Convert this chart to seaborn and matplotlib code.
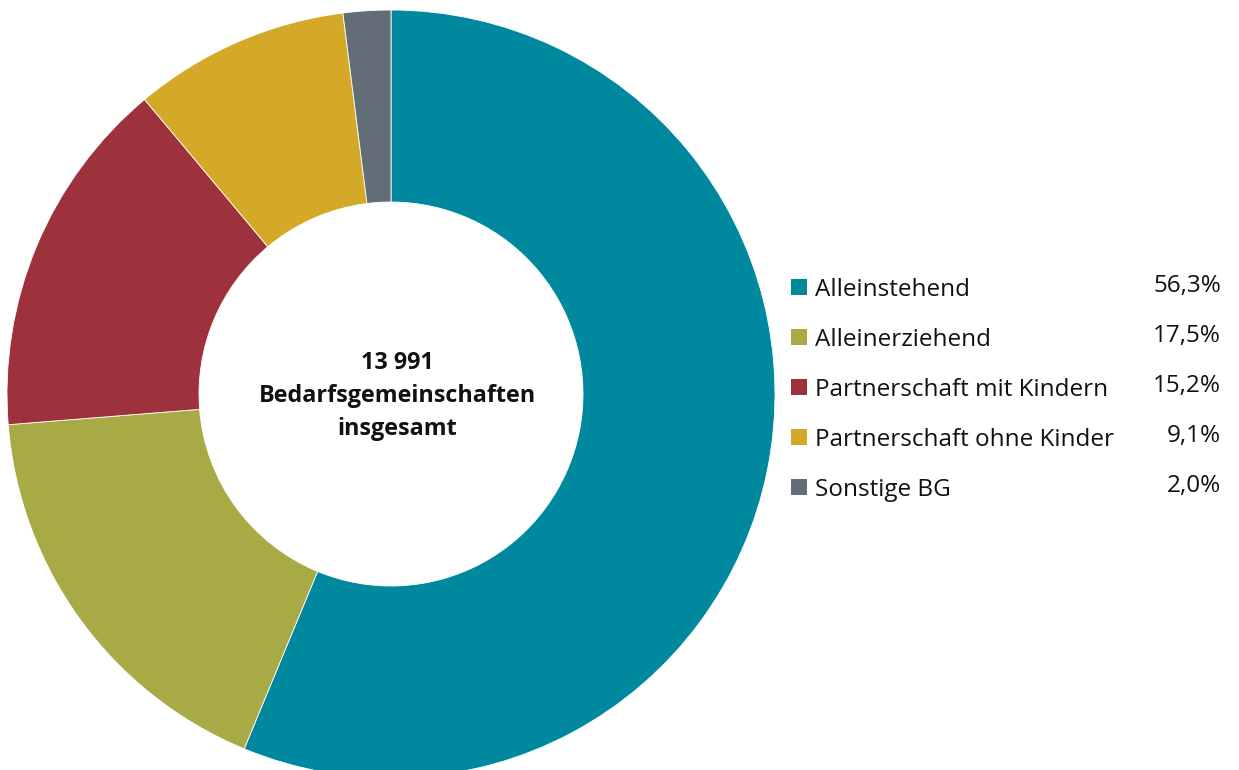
import matplotlib
matplotlib.use("Agg")
import matplotlib.pyplot as plt
import seaborn as sns

# Data
categories = ["Alleinstehend", "Alleinerziehend", "Partnerschaft mit Kindern",
              "Partnerschaft ohne Kinder", "Sonstige BG"]
shares = [56.3, 17.5, 15.2, 9.1, 2.0]
share_labels = ["56,3%", "17,5%", "15,2%", "9,1%", "2,0%"]
colors = ["#00889E", "#A8AA46", "#9E323C", "#D4A927", "#636D78"]
center_text = "13 991\nBedarfsgemeinschaften\ninsgesamt"

sns.set_theme(style="white")
plt.rcParams['font.family'] = ['Open Sans', 'DejaVu Sans']

W, H = 1239, 770
fig = plt.figure(figsize=(W / 100, H / 100), dpi=100)

# Donut axes: centre (391, 394) px, radius 384 px
cx, cy, r = 391, 394, 384
ax = fig.add_axes([(cx - r) / W, (H - cy - r) / H, 2 * r / W, 2 * r / H])
wedges, _ = ax.pie(shares, colors=colors, startangle=90, counterclock=False,
                   radius=1, wedgeprops=dict(width=0.5, edgecolor="white", linewidth=0.6))
ax.set_xlim(-1, 1)
ax.set_ylim(-1, 1)
ax.axis("off")
ax.text(0.016, -0.005, center_text, ha="center", va="center", fontsize=16.8,
        fontweight="bold", linespacing=1.5, color="#111111")

# Legend axes (pixel-like x units, rows in y)
lx0, ly0, lw, lh = 780, 260, 459, 250
lax = fig.add_axes([lx0 / W, (H - ly0 - lh) / H, lw / W, lh / H])
lax.set_xlim(0, lw)
lax.set_ylim(4.46, -0.54)
lax.axis("off")
rows = list(range(len(categories)))
sns.scatterplot(x=[19] * len(rows), y=rows, hue=categories, palette=colors,
                marker="s", s=140, linewidth=0, legend=False, ax=lax)
for i, (cat, lab) in enumerate(zip(categories, share_labels)):
    lax.text(35, i + 0.05, cat, ha="left", va="center", fontsize=17.5, color="#111111")
    lax.text(441, i - 0.02, lab, ha="right", va="center", fontsize=17.5, color="#111111")

fig.savefig("out.png", dpi=100)
